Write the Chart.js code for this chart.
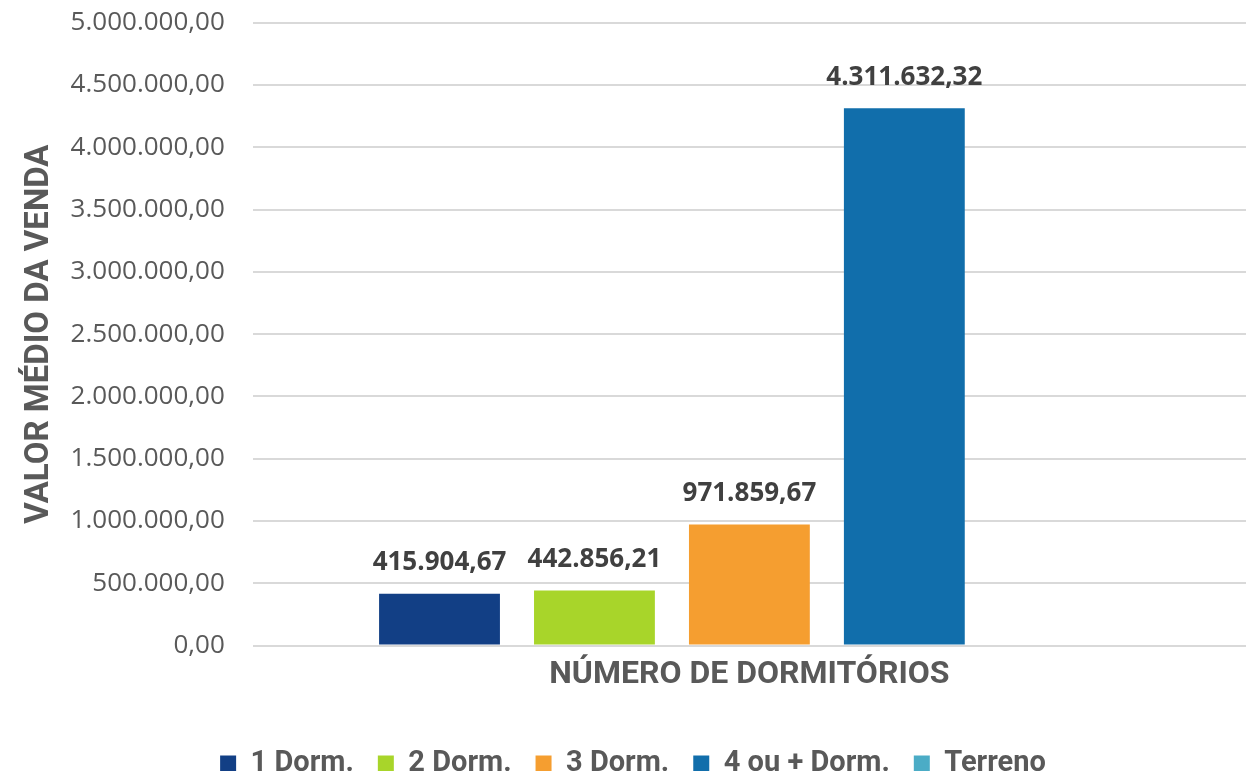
<!DOCTYPE html>
<html>
<head>
<meta charset="utf-8">
<script src="https://cdn.jsdelivr.net/npm/chart.js@4/dist/chart.umd.min.js"></script>
<style>
html,body{margin:0;padding:0;background:#fff;}
#wrap{width:1246px;height:771px;position:relative;}
</style>
</head>
<body>
<div id="wrap"><canvas id="c" width="1246" height="771"></canvas></div>
<script>
const categories = [''];
const seriesNames = ['1 Dorm.', '2 Dorm.', '3 Dorm.', '4 ou + Dorm.', 'Terreno'];
const series1Dorm = [415904.67];
const series2Dorm = [442856.21];
const series3Dorm = [971859.67];
const series4Dorm = [4311632.32];
const seriesTerreno = [null];
const seriesColors = ['#123F85', '#A8D52A', '#F59E30', '#116EAB', '#4BACC6'];
const yTicks = [0, 500000, 1000000, 1500000, 2000000, 2500000, 3000000, 3500000, 4000000, 4500000, 5000000];

function fmtBR(v) {
  const neg = v < 0;
  v = Math.abs(v);
  let [i, d] = v.toFixed(2).split('.');
  i = i.replace(/\B(?=(\d{3})+(?!\d))/g, '.');
  return (neg ? '-' : '') + i + ',' + d;
}

const allSeries = [series1Dorm, series2Dorm, series3Dorm, series4Dorm, seriesTerreno];
const datasets = allSeries.map((d, i) => ({
  label: seriesNames[i],
  data: d,
  backgroundColor: seriesColors[i],
  borderWidth: 0,
  barPercentage: 0.78,
  categoryPercentage: 0.78
}));

const dataLabels = {
  id: 'dataLabels',
  afterDatasetsDraw(chart) {
    const ctx = chart.ctx;
    ctx.save();
    ctx.font = 'bold 26px "Open Sans", sans-serif';
    ctx.fillStyle = '#404040';
    ctx.textAlign = 'center';
    ctx.textBaseline = 'bottom';
    chart.data.datasets.forEach((ds, di) => {
      const meta = chart.getDatasetMeta(di);
      meta.data.forEach((el, i) => {
        const v = ds.data[i];
        if (v === null || v === undefined) return;
        ctx.fillText(fmtBR(v), el.x, el.y - 18);
      });
    });
    ctx.restore();
  }
};

const narrow = 'Roboto, sans-serif';

new Chart(document.getElementById('c'), {
  type: 'bar',
  data: { labels: categories, datasets },
  plugins: [dataLabels],
  options: {
    responsive: false,
    animation: false,
    layout: { padding: { left: 20, right: 0, top: 0, bottom: -17 } },
    scales: {
      x: {
        grid: { display: false, drawTicks: false },
        border: { display: false },
        ticks: { display: false },
        title: {
          display: true,
          text: 'NÚMERO DE DORMITÓRIOS',
          color: '#595959',
          font: { family: narrow, size: 32, weight: 'bold' },
          padding: { top: 10, bottom: 31 }
        }
      },
      y: {
        min: 0,
        max: 5000000,
        afterBuildTicks(axis) { axis.ticks = yTicks.map(v => ({ value: v })); },
        grid: { color: '#D9D9D9', lineWidth: 2, drawTicks: true, tickLength: 21, tickColor: 'rgba(0,0,0,0)' },
        border: { display: false },
        ticks: {
          color: '#595959',
          font: { family: '"Open Sans", sans-serif', size: 26 },
          padding: 7,
          callback: v => fmtBR(v)
        },
        title: {
          display: true,
          text: 'VALOR MÉDIO DA VENDA',
          color: '#595959',
          font: { family: narrow, size: 33, weight: 'bold' },
          padding: { top: 0, bottom: 4 }
        }
      }
    },
    plugins: {
      legend: {
        position: 'bottom',
        labels: {
          boxWidth: 16,
          boxHeight: 16,
          padding: 24,
          color: '#595959',
          font: { family: narrow, size: 29, weight: 'bold' }
        }
      },
      tooltip: { enabled: false }
    }
  }
});
</script>
</body>
</html>
